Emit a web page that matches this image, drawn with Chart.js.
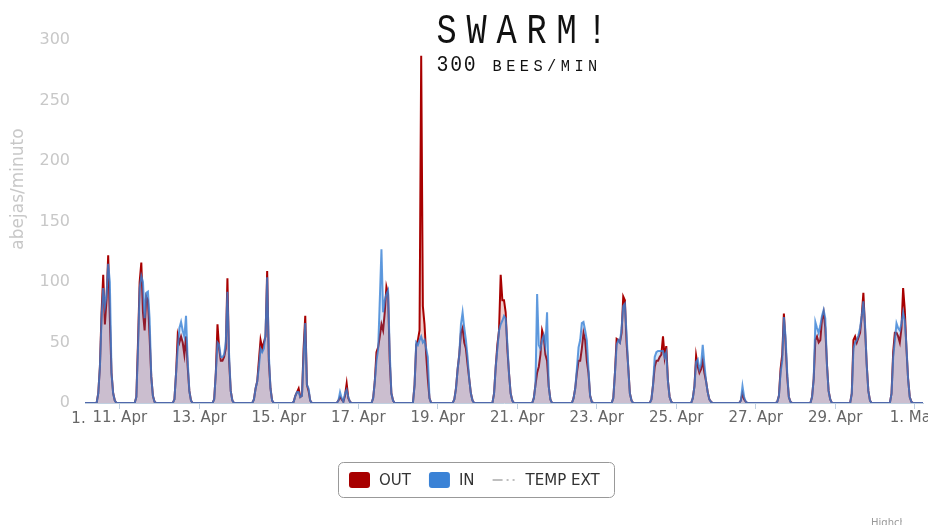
<!DOCTYPE html>
<html>
<head>
<meta charset="utf-8">
<title>Abejas - swarm</title>
<script src="https://cdn.jsdelivr.net/npm/chart.js@4.4.1/dist/chart.umd.min.js"></script>
<style>
    html, body { margin: 0; padding: 0; background: #fff; }
    #wrap { width: 928px; height: 525px; }
</style>
</head>
<body>
<div id="wrap"><canvas id="beesChart" width="928" height="525"></canvas></div>
<script>
// Hourly counts (bees/min), hour 0 = 10 Apr 00:00, one row per day
const outValues = [
    0,0,0,0,0,0,0,0,0,0,0,8,30,75,106,65,85,122,70,25,8,2,0,0,      // 10 Apr
    0,0,0,0,0,0,0,0,0,0,5,50,100,116,75,60,88,85,55,22,6,1,0,0,     // 11 Apr
    0,0,0,0,0,0,0,0,0,3,25,56,50,55,50,40,55,30,10,2,0,0,0,0,       // 12 Apr
    0,0,0,0,0,0,0,0,0,3,25,65,45,35,35,38,45,103,35,10,2,0,0,0,     // 13 Apr
    0,0,0,0,0,0,0,0,0,3,12,18,35,52,45,50,55,109,35,12,2,0,0,0,     // 14 Apr
    0,0,0,0,0,0,0,0,0,1,6,9,12,5,6,45,72,15,10,2,0,0,0,0,           // 15 Apr
    0,0,0,0,0,0,0,0,0,0,0,0,2,5,3,1,6,16,4,1,0,0,0,0,               // 16 Apr
    0,0,0,0,0,0,0,0,0,4,18,42,46,55,65,60,75,96,90,35,8,2,0,0,      // 17 Apr
    0,0,0,0,0,0,0,0,0,0,15,48,52,60,287,80,65,40,20,4,0,0,0,0,      // 18 Apr (swarm)
    0,0,0,0,0,0,0,0,0,0,3,12,28,40,58,62,50,45,32,20,8,2,0,0,       // 19 Apr
    0,0,0,0,0,0,0,0,0,0,8,30,48,60,106,85,85,75,45,25,8,2,0,0,      // 20 Apr
    0,0,0,0,0,0,0,0,0,0,4,15,25,30,40,60,55,40,35,14,3,0,0,0,       // 21 Apr
    0,0,0,0,0,0,0,0,0,0,4,12,25,35,35,45,58,52,35,25,6,1,0,0,       // 22 Apr
    0,0,0,0,0,0,0,0,0,0,4,25,53,52,50,58,88,85,50,30,8,2,0,0,       // 23 Apr
    0,0,0,0,0,0,0,0,0,3,15,30,35,35,38,40,55,38,47,18,5,1,0,0,      // 24 Apr
    0,0,0,0,0,0,0,0,0,0,4,14,39,30,25,28,35,25,18,9,3,1,0,0,        // 25 Apr
    0,0,0,0,0,0,0,0,0,0,0,0,0,0,0,2,8,3,1,0,0,0,0,0,                // 26 Apr
    0,0,0,0,0,0,0,0,0,0,0,0,0,1,6,28,40,74,50,22,5,1,0,0,           // 27 Apr
    0,0,0,0,0,0,0,0,0,0,5,20,52,55,50,52,69,75,62,32,10,3,0,0,      // 28 Apr
    0,0,0,0,0,0,0,0,0,0,8,52,55,50,54,58,72,91,62,32,10,2,0,0,      // 29 Apr
    0,0,0,0,0,0,0,0,0,0,8,42,58,58,55,50,62,95,77,45,20,5,1,0,      // 30 Apr
    0,0,0,0,0,0                                                     // 1 May
];

const inValues = [
    0,0,0,0,0,0,0,0,0,0,0,8,30,70,95,80,90,115,100,25,8,2,0,0,      // 10 Apr
    0,0,0,0,0,0,0,0,0,0,5,45,95,105,100,70,91,92,70,22,6,1,0,0,     // 11 Apr
    0,0,0,0,0,0,0,0,0,3,25,45,62,67,60,55,72,35,10,2,0,0,0,0,       // 12 Apr
    0,0,0,0,0,0,0,0,0,3,25,50,48,38,38,40,50,92,40,10,2,0,0,0,      // 13 Apr
    0,0,0,0,0,0,0,0,0,3,12,18,30,45,42,45,58,104,40,12,2,0,0,0,     // 14 Apr
    0,0,0,0,0,0,0,0,0,1,6,9,9,5,6,40,66,15,12,2,0,0,0,0,            // 15 Apr
    0,0,0,0,0,0,0,0,0,0,0,0,2,9,4,1,8,11,5,1,0,0,0,0,               // 16 Apr
    0,0,0,0,0,0,0,0,0,4,18,35,44,85,127,75,85,90,93,42,8,2,0,0,     // 17 Apr
    0,0,0,0,0,0,0,0,0,0,15,50,48,52,55,50,52,45,38,4,0,0,0,0,       // 18 Apr
    0,0,0,0,0,0,0,0,0,0,3,12,28,40,65,75,62,52,38,20,8,2,0,0,       // 19 Apr
    0,0,0,0,0,0,0,0,0,0,8,30,45,60,65,68,72,70,50,25,8,2,0,0,       // 20 Apr
    0,0,0,0,0,0,0,0,0,0,4,15,90,48,45,52,56,48,75,14,3,0,0,0,       // 21 Apr
    0,0,0,0,0,0,0,0,0,0,4,12,28,46,52,66,67,60,52,28,6,1,0,0,       // 22 Apr
    0,0,0,0,0,0,0,0,0,0,4,25,48,52,50,62,80,82,57,30,8,2,0,0,       // 23 Apr
    0,0,0,0,0,0,0,0,0,3,15,38,42,43,43,43,43,38,42,18,5,1,0,0,      // 24 Apr
    0,0,0,0,0,0,0,0,0,0,4,14,34,36,28,32,48,32,18,9,3,1,0,0,        // 25 Apr
    0,0,0,0,0,0,0,0,0,0,0,0,0,0,0,2,14,5,1,0,0,0,0,0,               // 26 Apr
    0,0,0,0,0,0,0,0,0,0,0,0,0,1,6,25,35,71,55,25,5,1,0,0,           // 27 Apr
    0,0,0,0,0,0,0,0,0,0,5,20,67,62,58,64,72,77,70,32,10,3,0,0,      // 28 Apr
    0,0,0,0,0,0,0,0,0,0,8,45,50,52,56,62,72,84,65,32,10,2,0,0,      // 29 Apr
    0,0,0,0,0,0,0,0,0,0,8,38,52,66,62,60,66,75,68,47,20,5,1,0,      // 30 Apr
    0,0,0,0,0,0                                                     // 1 May
];

// TEMP EXT is only shown in the legend
const tempExtValues = [];

const hours = outValues.map((_, i) => i);
const tickHours = [24, 72, 120, 168, 216, 264, 312, 360, 408, 456, 504];
const tickLabels = ['11. Apr', '13. Apr', '15. Apr', '17. Apr', '19. Apr', '21. Apr',
                    '23. Apr', '25. Apr', '27. Apr', '29. Apr', '1. May'];
const yTicks = [0, 50, 100, 150, 200, 250, 300];
const yTitle = 'abejas/minuto';
const swarmHour = 206;

const FONT = '"DejaVu Sans", "Liberation Sans", sans-serif';
const MONO = '"Liberation Mono", "DejaVu Sans Mono", monospace';

// Annotation, axis title, legend box and credits
const overlayPlugin = {
    id: 'overlay',
    afterDraw(chart) {
        const ctx = chart.ctx;
        const xs = chart.scales.x;
        ctx.save();

        // y axis title
        ctx.save();
        ctx.translate(19, 189);
        ctx.rotate(-Math.PI / 2);
        ctx.fillStyle = '#c8c8c8';
        ctx.font = '17px ' + FONT;
        ctx.textAlign = 'center';
        ctx.textBaseline = 'middle';
        ctx.fillText(yTitle, 0, 0);
        ctx.restore();

        // clipped first label on the left
        ctx.fillStyle = '#666';
        ctx.font = '15px ' + FONT;
        ctx.textAlign = 'center';
        ctx.textBaseline = 'middle';
        ctx.fillText('1.', 78.5, 419);

        // SWARM annotation next to the spike
        const sx = xs.getPixelForValue(swarmHour);
        ctx.fillStyle = '#111';
        ctx.textBaseline = 'alphabetic';
        ctx.font = '42px ' + MONO;
        const drawChar = (c, cx, cy, sc) => {
            ctx.save();
            ctx.translate(cx, cy);
            ctx.scale(sc, 1);
            ctx.fillText(c, 0, 0);
            ctx.restore();
        };
        'SWARM'.split('').forEach((c, i) => drawChar(c, sx + 25.5 + i * 30, 43, 0.8));
        drawChar('!', sx + 176, 43, 0.8);
        const sub = '300 BEES/MIN';
        sub.split('').forEach((c, i) => {
            ctx.font = (/[0-9]/.test(c) ? '22px ' : '17px ') + MONO;
            drawChar(c, sx + 21.3 + i * 13.65, 71, 0.9);
        });

        // legend
        const lx = 338.5, ly = 462.5, lw = 276, lh = 35;
        ctx.strokeStyle = '#999';
        ctx.lineWidth = 1;
        ctx.beginPath();
        ctx.roundRect(lx, ly, lw, lh, 5);
        ctx.stroke();

        const cy = 480;
        let x = 349;
        ctx.font = '15px ' + FONT;
        ctx.textAlign = 'left';
        ctx.textBaseline = 'middle';
        chart.data.datasets.forEach((ds, i) => {
            if (i < 2) {
                ctx.fillStyle = ds.swatch;
                ctx.beginPath();
                ctx.roundRect(x, cy - 8, 21, 16, 3);
                ctx.fill();
                x += 30;
            } else {
                ctx.strokeStyle = '#aaa';
                ctx.lineWidth = 1.5;
                ctx.setLineDash(ds.borderDash);
                ctx.beginPath();
                ctx.moveTo(x, cy);
                ctx.lineTo(x + 26, cy);
                ctx.stroke();
                ctx.setLineDash([]);
                x += 33;
            }
            ctx.fillStyle = '#333';
            ctx.fillText(ds.label, x, cy + 1);
            x += ctx.measureText(ds.label).width + 18;
        });

        // credits, cut by the bottom-right corner
        ctx.beginPath();
        ctx.rect(860, 505, 42, 20);
        ctx.clip();
        ctx.fillStyle = '#999';
        ctx.font = '10px ' + FONT;
        ctx.textAlign = 'left';
        ctx.textBaseline = 'alphabetic';
        ctx.fillText('Highcharts.com', 871, 526);

        ctx.restore();
    }
};

const ctx = document.getElementById('beesChart').getContext('2d');
const chart = new Chart(ctx, {
    type: 'line',
    data: {
        labels: hours,
        datasets: [
            {
                label: 'OUT',
                data: outValues,
                swatch: '#a80000',
                borderColor: '#a80000',
                backgroundColor: 'rgba(168, 0, 0, 0.2)',
                fill: 'origin',
                borderWidth: 2,
                pointRadius: 0,
                tension: 0,
                order: 1
            },
            {
                label: 'IN',
                data: inValues,
                swatch: '#3a82d6',
                borderColor: 'rgba(58, 130, 214, 0.8)',
                backgroundColor: 'rgba(58, 130, 214, 0.2)',
                fill: 'origin',
                borderWidth: 2,
                pointRadius: 0,
                tension: 0,
                order: 0
            },
            {
                label: 'TEMP EXT',
                data: tempExtValues,
                borderColor: '#aaa',
                borderDash: [10, 4, 2, 4, 2, 4],
                borderWidth: 1,
                pointRadius: 0,
                fill: false,
                order: 2
            }
        ]
    },
    options: {
        responsive: false,
        animation: false,
        layout: {
            padding: { top: 40, right: 5, bottom: 92, left: 0 }
        },
        plugins: {
            legend: { display: false },
            tooltip: { enabled: false }
        },
        scales: {
            x: {
                type: 'linear',
                min: 3,
                max: 509,
                afterBuildTicks: axis => {
                    axis.ticks = tickHours.map(v => ({ value: v }));
                },
                afterFit: axis => {
                    axis.height = 30;
                    axis.paddingLeft = 0;
                    axis.paddingRight = 0;
                },
                grid: {
                    display: true,
                    drawOnChartArea: false,
                    drawTicks: true,
                    tickLength: 6,
                    color: '#c0d0e0'
                },
                border: { display: true, color: '#c0d0e0' },
                ticks: {
                    autoSkip: false,
                    maxRotation: 0,
                    padding: 0,
                    color: '#666',
                    font: { family: FONT, size: 15 },
                    callback: (v, i) => tickLabels[i]
                }
            },
            y: {
                min: 0,
                max: 300,
                afterBuildTicks: axis => {
                    axis.ticks = yTicks.map(v => ({ value: v }));
                },
                afterFit: axis => {
                    axis.width = 85;
                },
                grid: { display: false, drawTicks: false },
                border: { display: false },
                ticks: {
                    padding: 15,
                    color: '#c8c8c8',
                    font: { family: FONT, size: 16 }
                }
            }
        }
    },
    plugins: [overlayPlugin]
});
</script>
</body>
</html>
